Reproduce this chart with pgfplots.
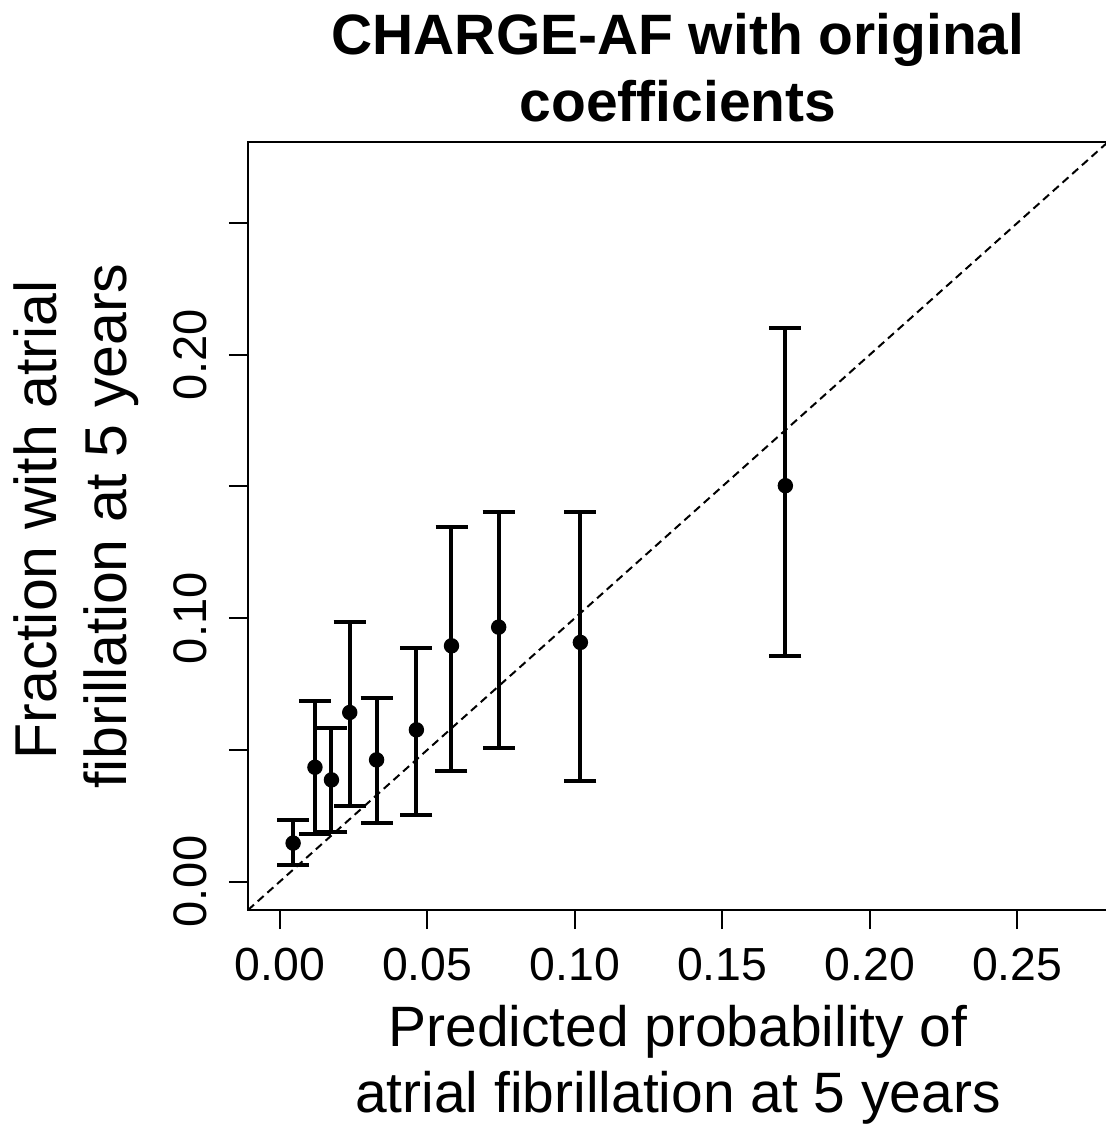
\documentclass[border=0pt]{standalone}
\usepackage{fontspec}
\setmainfont{Liberation Sans}
\usepackage{pgfplots}
\usepackage{pgfplotstable}
\pgfplotsset{compat=1.18}

% predicted, observed, lower and upper limit of the interval
\pgfplotstableread{
x      y      lo     hi
0.0045 0.0146 0.0061 0.0232
0.0119 0.0434 0.0181 0.0684
0.0175 0.0386 0.0188 0.0583
0.0237 0.0642 0.0285 0.0987
0.0328 0.0462 0.0224 0.0697
0.0463 0.0576 0.0253 0.0886
0.0582 0.0895 0.0418 0.1346
0.0742 0.0966 0.0507 0.1405
0.1019 0.0908 0.0382 0.1405
0.1714 0.1503 0.0855 0.2102
}\calib

\begin{document}
\begin{tikzpicture}
\begin{axis}[
    at={(0,0)}, anchor=south west,
    width=86mm, height=76.8mm, scale only axis,
    xmin=-0.0108, xmax=0.2808,
    ymin=-0.0108, ymax=0.2808,
    clip=false,
    axis line style={line width=0.2mm},
    tick style={line width=0.2mm, black},
    tick align=outside, tick pos=left,
    major tick length=1.9mm,
    xtick={0,0.05,0.10,0.15,0.20,0.25},
    xticklabels={0.00,0.05,0.10,0.15,0.20,0.25},
    ytick={0,0.05,0.10,0.15,0.20,0.25},
    yticklabels={0.00,,0.10,,0.20,},
    /pgf/number format/assume math mode=true,
    xticklabel style={font=\fontsize{13.2}{15}\selectfont, anchor=base, yshift=-5.1mm},
    yticklabel style={font=\fontsize{13.4}{15}\selectfont, xshift=-2.2mm, rotate=90, anchor=base},
]
\addplot[black, line width=0.2mm, dash pattern=on 0.8mm off 0.5mm]
    coordinates {(-0.0108,-0.0108) (0.2808,0.2808)};

\addplot[black, only marks, mark=*, mark size=0.7mm,
    error bars/.cd, y dir=both, y explicit,
    error bar style={line width=0.4mm, black},
    error mark options={rotate=90, line width=0.4mm, mark size=1.6mm, black}]
    table[x=x, y=y,
          y error plus expr=\thisrow{hi}-\thisrow{y},
          y error minus expr=\thisrow{y}-\thisrow{lo}] {\calib};

\node[anchor=base, font=\fontsize{16.2}{19}\selectfont\bfseries]
    at (rel axis cs:0.5,1) [yshift=8.7mm] {CHARGE-AF with original};
\node[anchor=base, font=\fontsize{16.2}{19}\selectfont\bfseries]
    at (rel axis cs:0.5,1) [yshift=2.0mm] {coefficients};
\node[anchor=base, font=\fontsize{16.2}{19}\selectfont]
    at (rel axis cs:0.5,0) [yshift=-13.6mm] {Predicted probability of};
\node[anchor=base, font=\fontsize{16.2}{19}\selectfont]
    at (rel axis cs:0.5,0) [yshift=-20.2mm] {atrial fibrillation at 5 years};
\node[xshift=-19.1mm, yshift=0.6mm, rotate=90, anchor=base, font=\fontsize{16.8}{19}\selectfont]
    at (rel axis cs:0,0.5) {Fraction with atrial};
\node[xshift=-12.1mm, rotate=90, anchor=base, font=\fontsize{16.8}{19}\selectfont]
    at (rel axis cs:0,0.5) {fibrillation at 5 years};
\end{axis}
\pgfresetboundingbox
\path[use as bounding box] (-24.8mm,-21.6mm) rectangle (85.7mm,91.0mm);
\end{tikzpicture}
\end{document}
